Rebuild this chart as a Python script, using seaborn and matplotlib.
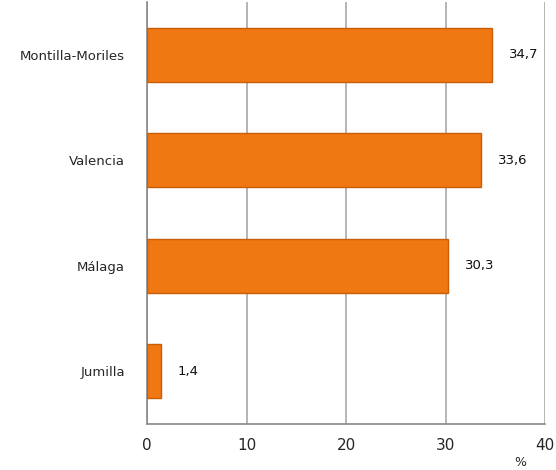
import matplotlib
matplotlib.use("Agg")
import matplotlib.pyplot as plt
import seaborn as sns
import pandas as pd
from matplotlib.ticker import FixedLocator

# Data
regions = ["Montilla-Moriles", "Valencia", "Málaga", "Jumilla"]
values = [34.7, 33.6, 30.3, 1.4]
x_ticks = [0, 10, 20, 30, 40]

df = pd.DataFrame({"region": regions, "value": values})

sns.set_style("white")
plt.rcParams["font.family"] = ["DejaVu Sans"]

fig = plt.figure(figsize=(5.56, 4.70), dpi=100)
ax = fig.add_axes([147 / 556, 46 / 470, 398 / 556, 422 / 470])

sns.barplot(data=df, y="region", x="value", orient="h", color="#F07812",
            width=0.51, edgecolor="#C85E08", linewidth=1.0, saturation=1,
            ax=ax, zorder=3)

# value labels
for i, v in enumerate(values):
    ax.annotate(f"{v:.1f}".replace(".", ","), xy=(v, i), xytext=(12, 0),
                textcoords="offset points", va="center", ha="left",
                fontsize=9.5, color="#111111")

ax.set_xlim(0, 40)
ax.set_ylim(3.5, -0.5)
ax.set_xticks(x_ticks)
ax.set_xticklabels([str(t) for t in x_ticks], fontsize=11)
ax.tick_params(axis="x", length=4, color="#888888", pad=6)
ax.tick_params(axis="y", which="major", length=0, pad=16, labelsize=9.5)
ax.yaxis.set_minor_locator(FixedLocator([0.5, 1.5, 2.5]))
ax.tick_params(axis="y", which="minor", length=4, color="#888888")
ax.xaxis.grid(True, color="#a0a0a0", linewidth=1.1, zorder=0)
ax.set_axisbelow(True)

for side in ["top", "right"]:
    ax.spines[side].set_visible(False)
for side in ["left", "bottom"]:
    ax.spines[side].set_color("#888888")
    ax.spines[side].set_linewidth(1.2)

ax.set_xlabel("")
ax.set_ylabel("")
fig.text(520 / 556, 0.002, "%", fontsize=9, ha="center", va="bottom")

fig.savefig("out.png", dpi=100)
plt.close(fig)
